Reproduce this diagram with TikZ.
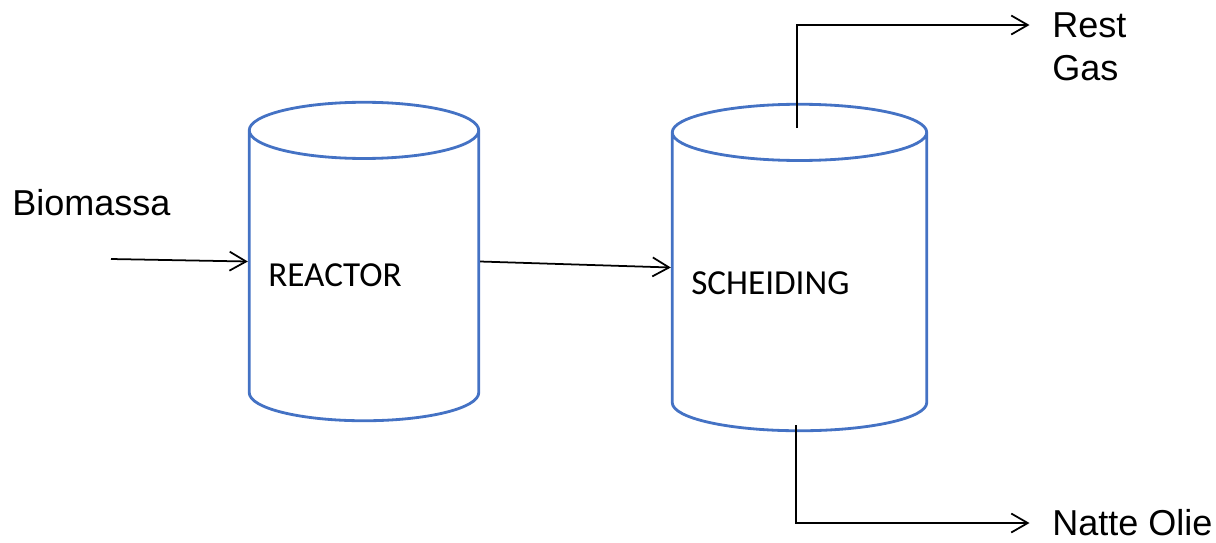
\documentclass[tikz,border=0pt]{standalone}
\usepackage{fontspec}
\setmainfont{Liberation Sans}
\newfontfamily\vatfont{Carlito}
\usetikzlibrary{arrows.meta,shapes.geometric}
\definecolor{vatblauw}{RGB}{68,114,196}

\begin{document}
\begin{tikzpicture}[
		vat/.style={cylinder,shape border rotate=90,draw=vatblauw,line width=1.6pt,aspect=4.8,anchor=shape center},
		stroom/.style={line width=1pt,-{Straight Barb[length=3.3mm,width=3.8mm,line width=1pt]}},
		label/.style={anchor=west,inner sep=0pt,font=\fontsize{20.5}{24}\selectfont},
		vatlabel/.style={anchor=west,inner sep=0pt,font=\vatfont\fontsize{20}{24}\selectfont}]
		\useasboundingbox (0,0) rectangle (24.32,-10.84);

		\node[vat,minimum width=4.59cm,minimum height=6.37cm] (reactor) at (7.28,-5.23) {};
		\node[vat,minimum width=5.09cm,minimum height=6.53cm] (scheiding) at (15.99,-5.35) {};
		\node[vatlabel] (reactortekst) at (5.36,-5.5) {REACTOR};
		\node[vatlabel] (scheidingtekst) at (13.82,-5.66) {SCHEIDING};

		\node[label] (biomassa) at (0.24,-4.06) {Biomassa};
		\node[label] (rest) at (21.04,-0.5) {Rest};
		\node[label] (gas) at (21.04,-1.36) {Gas};
		\node[label] (olie) at (21.04,-10.46) {Natte Olie};

		\coordinate (invoer) at (2.22,-5.18);
		\coordinate (gasuit) at (15.94,-2.56);
		\coordinate (olieuit) at (15.92,-8.5);

		\draw[stroom] (invoer) -- (reactor.west |- reactor.shape center);
		\draw[stroom] (reactor.east |- reactor.shape center) -- (scheiding.west |- scheiding.shape center);
		\draw[stroom] (gasuit) |- ([xshift=-0.45cm]rest.west);
		\draw[stroom] (olieuit) |- ([xshift=-0.45cm]olie.west);
\end{tikzpicture}
\end{document}
